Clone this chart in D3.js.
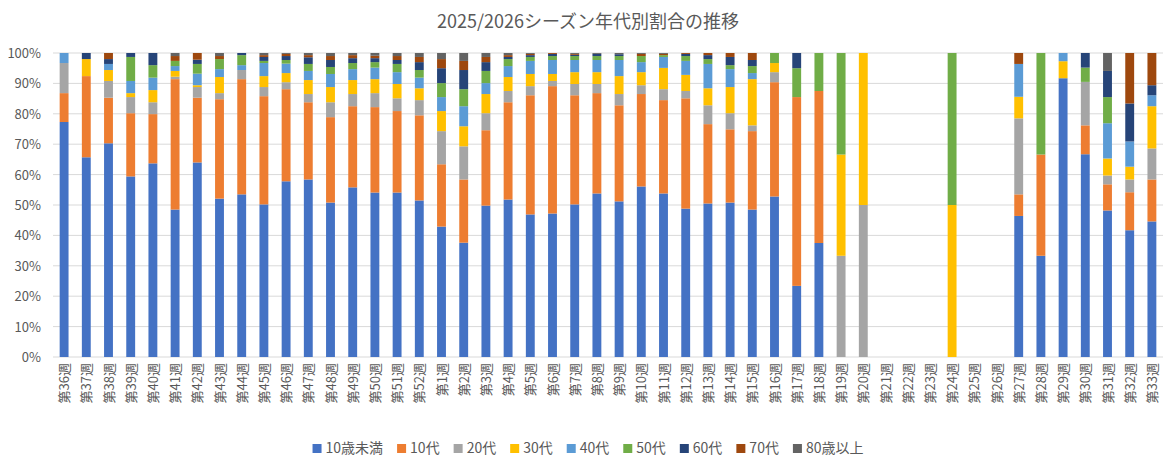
<!DOCTYPE html>
<head>
  <meta charset="utf-8">
  <script src="https://cdn.jsdelivr.net/npm/d3@7"></script>
  <style>
    body { margin: 0; background: white; font-family: "Noto Sans CJK JP", sans-serif; }
    text { fill: #595959; }
  </style>
</head>
<body>
<script>
const weeks = ['第36週','第37週','第38週','第39週','第40週','第41週','第42週','第43週','第44週','第45週','第46週','第47週','第48週','第49週','第50週','第51週','第52週',
  '第1週','第2週','第3週','第4週','第5週','第6週','第7週','第8週','第9週','第10週','第11週','第12週','第13週','第14週','第15週','第16週','第17週','第18週','第19週','第20週',
  '第21週','第22週','第23週','第24週','第25週','第26週','第27週','第28週','第29週','第30週','第31週','第32週','第33週']
const groups = ['10歳未満','10代','20代','30代','40代','50代','60代','70代','80歳以上']
const colors = ['#4472C4','#ED7D31','#A5A5A5','#FFC000','#5B9BD5','#70AD47','#264478','#9E480E','#636363']
const yTicks = [0,10,20,30,40,50,60,70,80,90,100]
// shares per week, order as in groups
const shares = [
  [77.3,9.5,9.9,0,3.3,0,0,0,0],
  [65.7,26.7,0,5.6,0,0,2,0,0],
  [70.3,15,5.5,3.6,2,0,1.6,2,0],
  [59.4,20.8,5.3,1.3,4,7.9,1.3,0,0],
  [63.7,16.2,3.9,4,4.1,4.1,4,0,0],
  [48.5,42.9,0.8,1.9,1.6,1.7,0,1.6,1],
  [64,21.3,3.5,0.6,3.8,3.2,1.4,2.2,0],
  [52.1,32.7,2,5.3,2.6,3.3,0,1,1],
  [53.5,37.9,3,0,1.6,3.3,0.7,0,0],
  [50.2,35.6,3,3.6,4.3,0.7,1.3,0.6,0.7],
  [57.8,30.3,2.3,3,3.1,1.2,1.3,0.7,0.3],
  [58.4,25.4,2.7,4.6,3,2.3,2.2,0.7,0.7],
  [50.8,28.1,4.9,5,4.3,2.3,2.3,1.3,1],
  [55.8,26.7,4,4.6,3.6,2,1.6,1,0.7],
  [54.1,28.1,4.6,4.6,3.8,1.8,1.3,0.8,0.9],
  [54.1,26.8,4.2,4.7,3.9,2.7,1.3,1.3,1],
  [51.5,28,5,3.9,3.5,2.5,2.6,1.7,1.3],
  [42.9,20.5,10.9,6.6,4.6,4.6,4.9,3,2],
  [37.6,20.8,10.9,6.6,6.6,5.6,6.3,3,2.6],
  [49.8,24.8,5.6,6.3,3.6,4,2.9,1.7,1.3],
  [51.8,32,3.7,4.6,3.6,2.3,0.7,0.6,0.7],
  [46.9,39.2,3,4,4.3,1.3,0.6,0.4,0.3],
  [47.2,41.9,1.7,2.3,4.6,1.3,0.7,0.3,0],
  [50.2,35.9,3.7,3.9,4,1.3,0.4,0.3,0.3],
  [53.8,33,3,3.9,4,1.3,0.7,0,0.3],
  [51.2,31.6,3.7,5.9,5.3,1.3,0.6,0,0.4],
  [56.1,30.4,2.9,4.3,3.3,2,0,0.7,0.3],
  [53.8,30.7,3.6,7,3.6,0.6,0,0.4,0.3],
  [48.8,36.3,2.4,5.3,4.6,1.6,0.7,0.3,0],
  [50.5,26.1,6.2,5.6,8,1.6,1.3,0.7,0],
  [50.8,24.1,5.3,8.6,5.9,1.3,2.7,1.3,0],
  [48.5,25.8,1.9,15.2,2,2.3,2,2.3,0],
  [52.8,37.6,3.3,3,0,3.3,0,0,0],
  [23.4,62.1,0,0,0,9.5,5,0,0],
  [37.5,50,0,0,0,12.5,0,0,0],
  [0,0,33.3,33.3,0,33.4,0,0,0],
  [0,0,50,50,0,0,0,0,0],
  [0,0,0,0,0,0,0,0,0],
  [0,0,0,0,0,0,0,0,0],
  [0,0,0,0,0,0,0,0,0],
  [0,0,0,50,0,50,0,0,0],
  [0,0,0,0,0,0,0,0,0],
  [0,0,0,0,0,0,0,0,0],
  [46.4,7.1,25,7.1,10.8,0,0,3.6,0],
  [33.3,33.3,0,0,0,33.4,0,0,0],
  [91.7,0,0,5.6,2.7,0,0,0,0],
  [66.7,9.5,14.3,0,0,4.7,4.8,0,0],
  [48.2,8.6,2.9,5.6,11.6,8.6,8.6,0,5.9],
  [41.7,12.5,4.2,4.2,8.3,0,12.5,16.6,0],
  [44.6,13.8,10.2,13.9,3.6,0,3.3,10.6,0]
]

const W = 1176, H = 469
const m = { left: 53, right: 13, top: 53, bottom: 112 }
const svg = d3.select('body').append('svg').attr('width', W).attr('height', H)

const x = d3.scaleBand().domain(weeks).range([m.left, W - m.right]).paddingInner(0.6).paddingOuter(0.3)
const y = d3.scaleLinear().domain([0, 100]).range([H - m.bottom, m.top])

svg.append('text').attr('x', W / 2).attr('y', 28).attr('text-anchor', 'middle')
  .style('font-size', '18px').text('2025/2026シーズン年代別割合の推移')

svg.append('g').selectAll('line').data(yTicks).join('line')
  .attr('x1', m.left).attr('x2', W - m.right)
  .attr('y1', d => y(d)).attr('y2', d => y(d))
  .attr('stroke', '#d9d9d9').attr('stroke-width', 1)

svg.append('g').selectAll('text').data(yTicks).join('text')
  .attr('x', 41).attr('y', d => y(d) + 5).attr('text-anchor', 'end')
  .style('font-size', '13px').text(d => d + '%')

const rows = weeks.map((w, i) => { const r = { week: w }; groups.forEach((g, j) => r[g] = shares[i][j]); return r })
const stack = d3.stack().keys(groups)(rows)

svg.append('g').selectAll('g').data(stack).join('g')
  .attr('fill', (d, i) => colors[i])
  .selectAll('rect').data(d => d).join('rect')
  .attr('x', d => x(d.data.week))
  .attr('width', x.bandwidth())
  .attr('y', d => y(d[1]))
  .attr('height', d => y(d[0]) - y(d[1]))

svg.append('g').selectAll('text').data(weeks).join('text')
  .attr('transform', d => `translate(${x(d) + x.bandwidth() / 2 + 5},${y(0) + 6}) rotate(-90)`)
  .attr('text-anchor', 'end')
  .style('font-size', '13px').text(d => d)

const legend = svg.append('g')
let lx = 0
const items = groups.map((g, i) => {
  const it = legend.append('g').attr('transform', `translate(${lx},0)`)
  it.append('rect').attr('width', 9).attr('height', 9).attr('y', -9).attr('fill', colors[i])
  const t = it.append('text').attr('x', 13).attr('y', 0).style('font-size', '14px').text(g)
  lx += 13 + t.node().getComputedTextLength() + 14
  return it
})
legend.attr('transform', `translate(${(W - lx + 14) / 2},${H - 16})`)
</script>
</body>
